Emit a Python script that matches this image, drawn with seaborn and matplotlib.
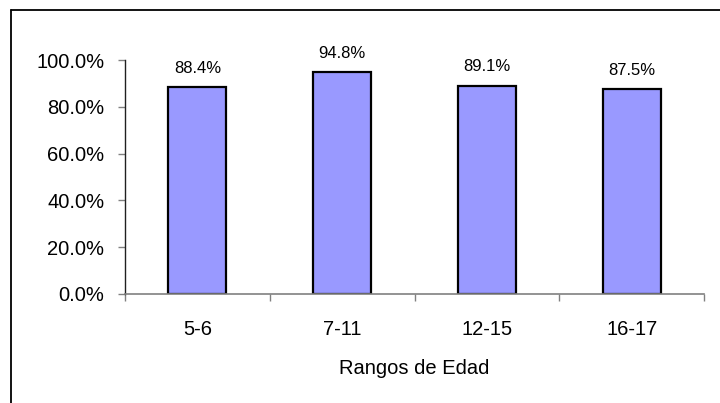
import pandas as pd
import matplotlib
matplotlib.use('Agg')
import matplotlib.pyplot as plt
import matplotlib.ticker as mticker
from matplotlib.lines import Line2D
import seaborn as sns

# Data
rangos = ['5-6', '7-11', '12-15', '16-17']
porcentajes = [0.884, 0.948, 0.891, 0.875]
etiquetas = ['88.4%', '94.8%', '89.1%', '87.5%']

df = pd.DataFrame({'rango': rangos, 'pct': porcentajes})

sns.set_style('white')
plt.rcParams['font.family'] = ['Liberation Sans', 'DejaVu Sans']
plt.rcParams['text.color'] = 'black'
plt.rcParams['xtick.labelcolor'] = 'black'
plt.rcParams['ytick.labelcolor'] = 'black'
plt.rcParams['axes.labelcolor'] = 'black'

fig = plt.figure(figsize=(7.2, 4.03), dpi=100)
ax = fig.add_axes([0.1736, 0.2705, 0.8042, 0.5806])

sns.barplot(data=df, x='rango', y='pct', color='#9999FF', edgecolor='black',
            linewidth=1.6, width=0.4, saturation=1, ax=ax)

# Data labels above bars
for i, (v, t) in enumerate(zip(porcentajes, etiquetas)):
    ax.annotate(t, (i, v), xytext=(0, 8), textcoords='offset points',
                ha='center', va='bottom', fontsize=12, color='black')

ax.set_ylim(0, 1.0)
ax.set_xlim(-0.5, len(rangos) - 0.5)
ax.yaxis.set_major_locator(mticker.MultipleLocator(0.2))
ax.yaxis.set_major_formatter(mticker.FuncFormatter(lambda y, _: f'{y * 100:.1f}%'))

# Category boundaries carry the tick marks
ax.set_xticks([i - 0.5 for i in range(len(rangos) + 1)], minor=True)
ax.tick_params(axis='x', which='major', length=0, pad=19, labelsize=14.5)
ax.tick_params(axis='x', which='minor', length=5, direction='out', color='#808080', width=1, bottom=True)
ax.tick_params(axis='y', which='major', length=5, direction='out', color='#808080', width=1,
               labelsize=14.5, left=True, pad=10)

for s in ['top', 'right']:
    ax.spines[s].set_visible(False)
ax.spines['left'].set_color('#202020')
ax.spines['left'].set_linewidth(1)
ax.spines['bottom'].set_color('#808080')
ax.spines['bottom'].set_linewidth(1.2)

ax.set_xlabel('Rangos de Edad', fontsize=14.5, labelpad=14)
ax.set_ylabel('')

# Chart-area border (top and left visible)
fig.add_artist(Line2D([11 / 720, 1], [1 - 10 / 403, 1 - 10 / 403], color='black', lw=1.3))
fig.add_artist(Line2D([11 / 720, 11 / 720], [0, 1 - 10 / 403], color='black', lw=1.3))

fig.savefig('out.png', dpi=100)
